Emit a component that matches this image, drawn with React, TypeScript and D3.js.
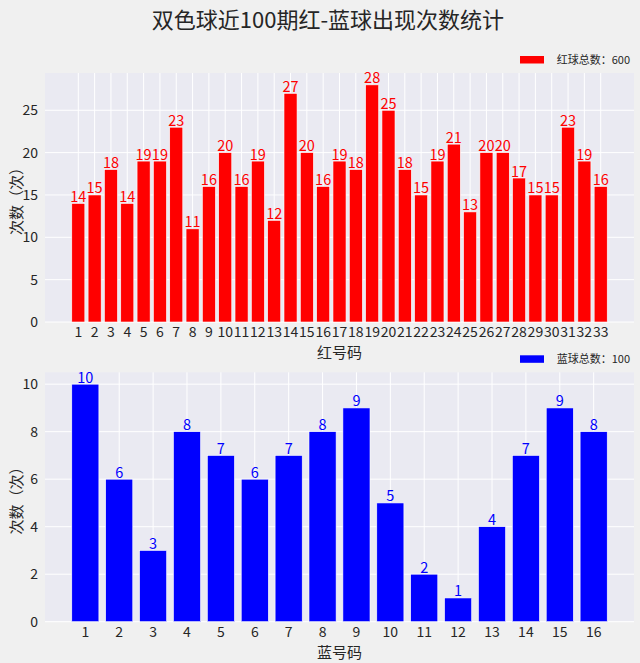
import React from "react";
import * as d3 from "d3";

const redNumbers = d3.range(1, 34);
const redCounts = [14, 15, 18, 14, 19, 19, 23, 11, 16, 20, 16, 19, 12, 27, 20, 16, 19, 18, 28, 25, 18, 15, 19, 21, 13, 20, 20, 17, 15, 15, 23, 19, 16];
const redTicks = [0, 5, 10, 15, 20, 25];

const blueNumbers = d3.range(1, 17);
const blueCounts = [10, 6, 3, 8, 7, 6, 7, 8, 9, 5, 2, 1, 4, 7, 9, 8];
const blueTicks = [0, 2, 4, 6, 8, 10];

const W = 640;
const H = 663;
const FONT = "'Noto Sans CJK SC', 'Noto Sans', sans-serif";
const TEXT = "#262626";

type PanelProps = {
  top: number;
  bottom: number;
  numbers: number[];
  counts: number[];
  yTicks: number[];
  color: string;
  legend: string;
  xLabel: string;
};

function Panel({ top, bottom, numbers, counts, yTicks, color, legend, xLabel }: PanelProps) {
  const left = 45;
  const right = 634;
  const n = numbers.length;
  const pad = (n - 1 + 0.8) * 0.05;
  const x = d3.scaleLinear().domain([0.6 - pad, n + 0.4 + pad]).range([left, right]);
  const maxY = d3.max(counts)! * 1.05;
  const y = d3.scaleLinear().domain([0, maxY]).range([bottom, top]);
  const bw = x(1.8) - x(1);

  return (
    <g fontFamily={FONT}>
      <rect x={left} y={top} width={right - left} height={bottom - top} fill="#EAEAF2" />
      {yTicks.map((t) => (
        <line key={"gy" + t} x1={left} x2={right} y1={y(t)} y2={y(t)} stroke="#fff" strokeWidth={1} />
      ))}
      {numbers.map((d) => (
        <line key={"gx" + d} x1={x(d)} x2={x(d)} y1={top} y2={bottom} stroke="#fff" strokeWidth={1} />
      ))}
      {numbers.map((d, i) => (
        <rect
          key={"b" + d}
          x={x(d) - bw / 2}
          y={y(counts[i])}
          width={bw}
          height={bottom - y(counts[i])}
          fill={color}
          stroke="#fff"
          strokeWidth={0.6}
        />
      ))}
      {numbers.map((d, i) => (
        <text key={"v" + d} x={x(d)} y={y(counts[i]) - 1.5} textAnchor="middle" fontSize={14.5} fill={color}>
          {counts[i]}
        </text>
      ))}
      {yTicks.map((t) => (
        <text key={"ty" + t} x={38} y={y(t) + 5} textAnchor="end" fontSize={14} fill={TEXT}>
          {t}
        </text>
      ))}
      {numbers.map((d) => (
        <text key={"tx" + d} x={x(d)} y={bottom + 15} textAnchor="middle" fontSize={14} fill={TEXT}>
          {d}
        </text>
      ))}
      <text x={(left + right) / 2} y={bottom + 36} textAnchor="middle" fontSize={15} fill={TEXT}>
        {xLabel}
      </text>
      <text
        transform={`translate(22,${(top + bottom) / 2}) rotate(-90)`}
        textAnchor="middle"
        fontSize={15}
        fill={TEXT}
      >
        次数（次）
      </text>
      <rect x={520} y={top - 17} width={24} height={7.5} fill={color} />
      <text x={630} y={top - 9.5} textAnchor="end" fontSize={11} fill={TEXT}>
        {legend}
      </text>
    </g>
  );
}

export default function App() {
  const redTotal = d3.sum(redCounts);
  const blueTotal = d3.sum(blueCounts);
  return (
    <svg width={W} height={H} style={{ position: "absolute", left: 0, top: 0 }}>
      <rect width={W} height={H} fill="#F0F0F0" />
      <text x={328} y={28} textAnchor="middle" fontSize={22} fill={TEXT} fontFamily={FONT}>
        双色球近100期红-蓝球出现次数统计
      </text>
      <Panel
        top={73}
        bottom={322}
        numbers={redNumbers}
        counts={redCounts}
        yTicks={redTicks}
        color="#ff0000"
        legend={`红球总数：${redTotal}`}
        xLabel="红号码"
      />
      <Panel
        top={372.3}
        bottom={621.7}
        numbers={blueNumbers}
        counts={blueCounts}
        yTicks={blueTicks}
        color="#0000ff"
        legend={`蓝球总数：${blueTotal}`}
        xLabel="蓝号码"
      />
    </svg>
  );
}
